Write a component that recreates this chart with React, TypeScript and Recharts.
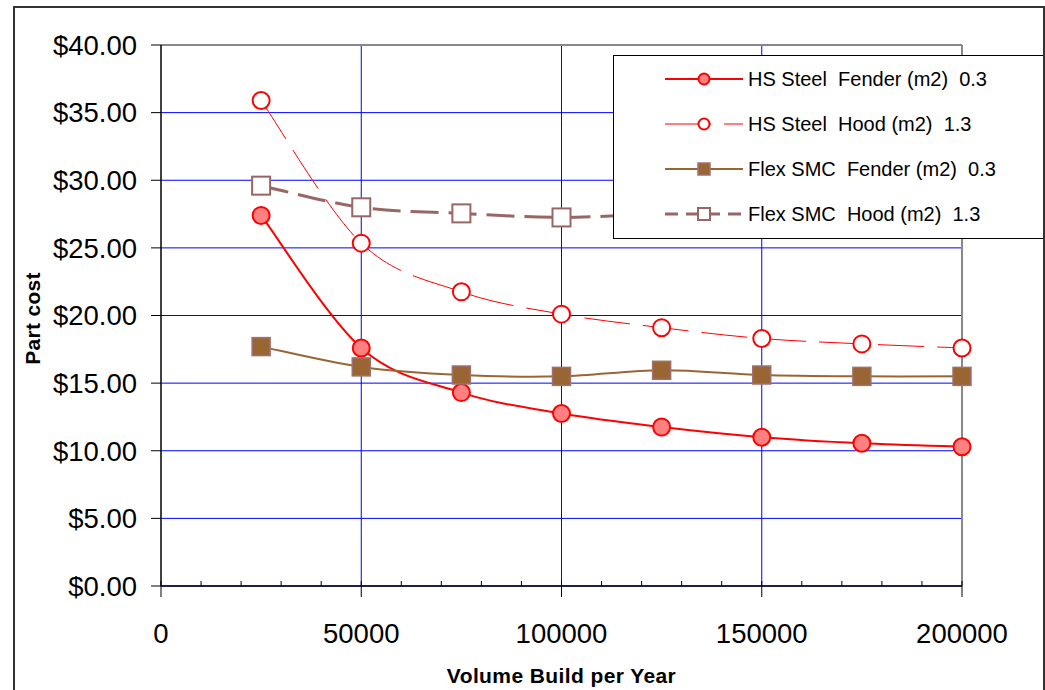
import React from 'react';
import { LineChart, Line, XAxis, YAxis, CartesianGrid, ReferenceLine, Legend } from 'recharts';

const volumes = [25000, 50000, 75000, 100000, 125000, 150000, 175000, 200000];
const hsSteelFender = [27.4, 17.6, 14.3, 12.75, 11.75, 11.0, 10.55, 10.3];
const hsSteelHood = [35.9, 25.35, 21.75, 20.1, 19.1, 18.3, 17.9, 17.6];
const flexSmcFender = [17.7, 16.2, 15.6, 15.5, 15.95, 15.6, 15.5, 15.5];
const flexSmcHood = [29.6, 28.0, 27.55, 27.25, 27.5, 27.4, 27.3, 27.3];

const seriesNames = [
  'HS Steel  Fender (m2)  0.3',
  'HS Steel  Hood (m2)  1.3',
  'Flex SMC  Fender (m2)  0.3',
  'Flex SMC  Hood (m2)  1.3',
];

const yTicks = [0, 5, 10, 15, 20, 25, 30, 35, 40];
const xMajorStep = 50000;
const xGridLines = [50000, 100000, 150000];
const xTicks = [
  0, 10000, 20000, 30000, 40000, 50000, 60000, 70000, 80000, 90000, 100000,
  110000, 120000, 130000, 140000, 150000, 160000, 170000, 180000, 190000, 200000,
];

const data = volumes.map((v, i) => ({
  volume: v,
  s0: hsSteelFender[i],
  s1: hsSteelHood[i],
  s2: flexSmcFender[i],
  s3: flexSmcHood[i],
}));

const FONT = '"Liberation Sans", Arial, Helvetica, sans-serif';

type SeriesStyle = {
  key: string;
  stroke: string;
  width: number;
  dash?: string;
  legendDash?: string;
  marker: 'circle' | 'square';
  fill: string;
  markerStroke: string;
  markerStrokeWidth: number;
};

const styles: SeriesStyle[] = [
  { key: 's0', stroke: '#FF0000', width: 2, marker: 'circle', fill: '#FF8080', markerStroke: '#FF0000', markerStrokeWidth: 2 },
  { key: 's1', stroke: '#FF0000', width: 1, dash: '46 13', legendDash: '46 13', marker: 'circle', fill: '#FFFFFF', markerStroke: '#FF0000', markerStrokeWidth: 2 },
  { key: 's2', stroke: '#996633', width: 2, marker: 'square', fill: '#996633', markerStroke: '#A07070', markerStrokeWidth: 1.5 },
  { key: 's3', stroke: '#996666', width: 3, dash: '28 10', legendDash: '13 8', marker: 'square', fill: '#FFFFFF', markerStroke: '#996666', markerStrokeWidth: 2 },
];

// Excel-like smoothing (Catmull-Rom style Bezier through every point)
const excelSmooth = (context: any) => {
  let pts: [number, number][] = [];
  return {
    areaStart() {},
    areaEnd() {},
    lineStart() {
      pts = [];
    },
    lineEnd() {
      const n = pts.length;
      if (n === 0) return;
      context.moveTo(pts[0][0], pts[0][1]);
      if (n === 1) return;
      for (let i = 0; i < n - 1; i++) {
        const p0 = pts[Math.max(i - 1, 0)];
        const p1 = pts[i];
        const p2 = pts[i + 1];
        const p3 = pts[Math.min(i + 2, n - 1)];
        context.bezierCurveTo(
          p1[0] + (p2[0] - p0[0]) / 6,
          p1[1] + (p2[1] - p0[1]) / 6,
          p2[0] - (p3[0] - p1[0]) / 6,
          p2[1] - (p3[1] - p1[1]) / 6,
          p2[0],
          p2[1]
        );
      }
    },
    point(x: number, y: number) {
      pts.push([+x, +y]);
    },
  };
};

function drawMarker(s: SeriesStyle, cx: number, cy: number, size: number, key?: string | number) {
  if (s.marker === 'circle') {
    return (
      <circle key={key} cx={cx} cy={cy} r={size / 2 - 1} fill={s.fill} stroke={s.markerStroke} strokeWidth={s.markerStrokeWidth} />
    );
  }
  const h = size / 2 - 0.5;
  return (
    <rect key={key} x={cx - h} y={cy - h} width={2 * h} height={2 * h} fill={s.fill} stroke={s.markerStroke} strokeWidth={s.markerStrokeWidth} />
  );
}

const makeDot = (s: SeriesStyle) => (props: any) => {
  const { cx, cy, index } = props;
  if (cx == null || cy == null) return <g key={`n${index}`} />;
  return drawMarker(s, cx, cy, 19, `${s.key}-${index}`);
};

const renderLegend = () => (
  <div style={{ fontFamily: FONT, fontSize: 20, color: '#000' }}>
    {styles.map((s, i) => (
      <div key={s.key} style={{ height: 45, display: 'flex', alignItems: 'center' }}>
        <svg width={134} height={20} style={{ flex: 'none', display: 'block' }}>
          <line x1={51} y1={10} x2={129} y2={10} stroke={s.stroke} strokeWidth={s.width} strokeDasharray={s.legendDash} />
          {drawMarker(s, 90, 10, 13)}
        </svg>
        <span style={{ whiteSpace: 'pre', lineHeight: '20px' }}>{seriesNames[i]}</span>
      </div>
    ))}
  </div>
);

const XTick = (props: any) => {
  const { x, y, payload } = props;
  const v = payload.value;
  const major = v % xMajorStep === 0;
  return (
    <g>
      <line x1={x} x2={x} y1={y - 5} y2={major ? y + 11 : y} stroke="#000" strokeWidth={1} />
      {major && (
        <text x={x} y={y + 57} textAnchor="middle" fontFamily={FONT} fontSize={27.5} fill="#000">
          {v}
        </text>
      )}
    </g>
  );
};

const XTitle = (props: any) => {
  const vb = props.viewBox || { x: 161, y: 586, width: 801, height: 60 };
  return (
    <text x={vb.x + vb.width / 2} y={vb.y + 97} textAnchor="middle" fontFamily={FONT} fontSize={21} fontWeight="bold" letterSpacing={0.4} fill="#000">
      Volume Build per Year
    </text>
  );
};

const YTitle = (props: any) => {
  const vb = props.viewBox || { x: 0, y: 45, width: 161, height: 541 };
  const x = 40;
  const y = vb.y + vb.height / 2 + 3;
  return (
    <text x={x} y={y} transform={`rotate(-90 ${x} ${y})`} textAnchor="middle" fontFamily={FONT} fontSize={21} fontWeight="bold" letterSpacing={0.3} fill="#000">
      Part cost
    </text>
  );
};

export default function App() {
  return (
    <div style={{ position: 'absolute', left: 0, top: 0, width: 1045, height: 690, overflow: 'hidden', background: '#fff', fontFamily: FONT }}>
      <LineChart width={1045} height={690} data={data} margin={{ top: 45, right: 83, bottom: 44, left: 0 }}>
        <CartesianGrid stroke="#0000FF" strokeWidth={1} horizontal vertical={false} />
        {xGridLines.map((gx) => (
          <ReferenceLine key={gx} x={gx} stroke="#0000FF" strokeWidth={1} />
        ))}
        <XAxis
          dataKey="volume"
          type="number"
          domain={[0, 200000]}
          ticks={xTicks}
          interval={0}
          height={60}
          tickSize={0}
          tickMargin={0}
          axisLine={{ stroke: '#000', strokeWidth: 1.5 }}
          tickLine={false}
          tick={XTick}
          label={{ content: XTitle }}
        />
        <YAxis
          type="number"
          domain={[0, 40]}
          ticks={yTicks}
          interval={0}
          width={161}
          tickSize={10}
          tickMargin={14}
          axisLine={{ stroke: '#000', strokeWidth: 1.5 }}
          tickLine={{ stroke: '#000', strokeWidth: 1 }}
          tick={{ fill: '#000', fontSize: 27.5, fontFamily: FONT }}
          tickFormatter={(v: number) => `$${v.toFixed(2)}`}
          label={{ content: YTitle }}
        />
        <ReferenceLine y={40} stroke="#888888" strokeWidth={2} />
        <ReferenceLine x={200000} stroke="#888888" strokeWidth={2} />
        {styles.map((s, i) => (
          <Line
            key={s.key}
            dataKey={s.key}
            name={seriesNames[i]}
            type={excelSmooth as any}
            stroke={s.stroke}
            strokeWidth={s.width}
            strokeDasharray={s.dash}
            dot={makeDot(s)}
            activeDot={false}
            isAnimationActive={false}
          />
        ))}
        <Legend
          layout="horizontal"
          align="center"
          verticalAlign="middle"
          content={renderLegend}
          wrapperStyle={{
            position: 'absolute',
            left: 613,
            top: 55,
            width: 431,
            height: 184,
            border: '1px solid #000',
            background: '#fff',
            boxSizing: 'border-box',
            margin: 0,
            padding: 0,
          }}
        />
      </LineChart>
      <div
        style={{
          position: 'absolute',
          left: 13,
          top: 6,
          width: 1032,
          height: 720,
          border: '2px solid #333',
          boxSizing: 'border-box',
          pointerEvents: 'none',
        }}
      />
    </div>
  );
}
